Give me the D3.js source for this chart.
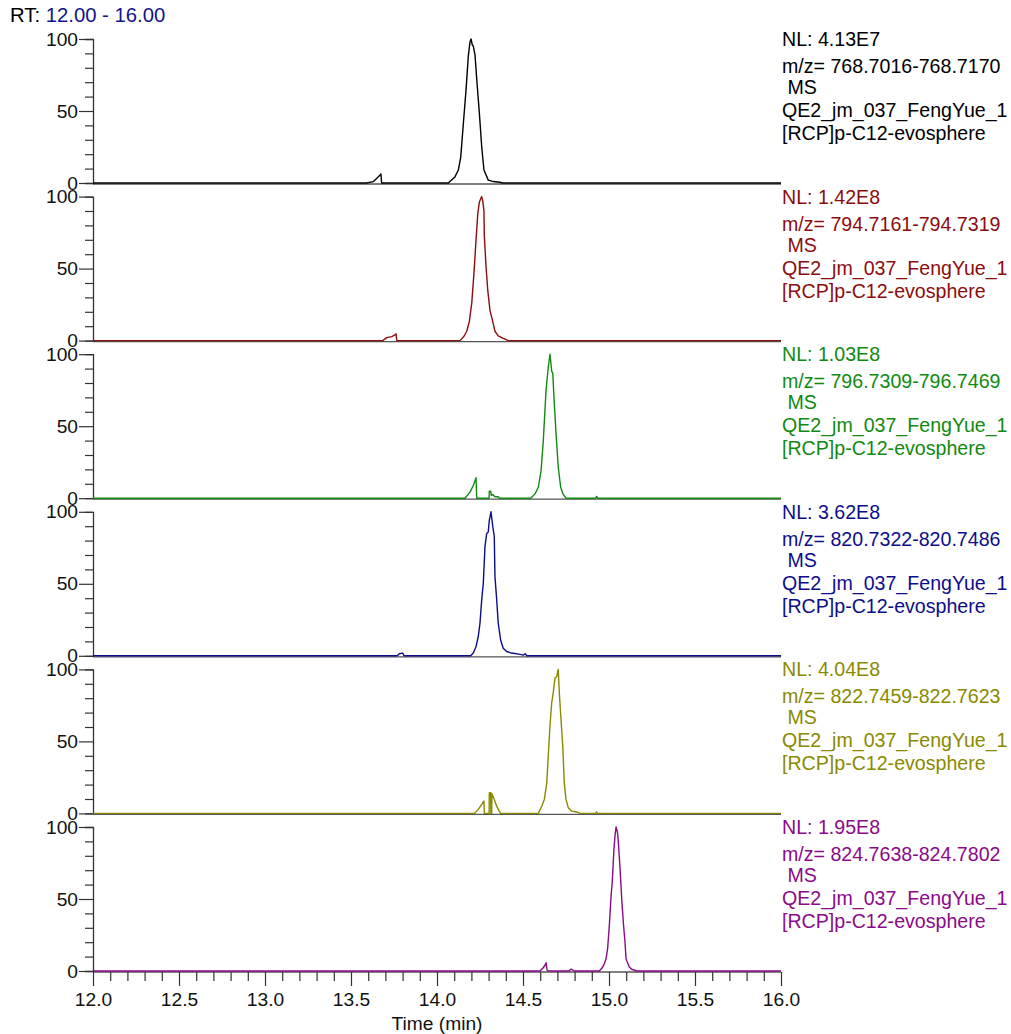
<!DOCTYPE html>
<html>
<head>
<meta charset="utf-8">
<script src="https://cdn.jsdelivr.net/npm/d3@7"></script>
<style>
  body { margin: 0; background: #fff; }
  svg text { font-family: "Liberation Sans", Arial, sans-serif; }
</style>
</head>
<body>
<svg id="chart" width="1011" height="1034"></svg>
<script>
// Time range shown (min)
const timeRange = [12, 16];
const xMajorTicks = [12.0, 12.5, 13.0, 13.5, 14.0, 14.5, 15.0, 15.5, 16.0];
const yMajorTicks = [0, 50, 100];

// Extracted ion chromatograms: [retention time (min), relative abundance (%)]
const trace768 = [
  [12.0, 0], [13.591, 0], [13.630, 1], [13.649, 3.2], [13.669, 5.5], [13.674, 6.2], [13.678, 0],
  [14.066, 0], [14.105, 4.4], [14.124, 9], [14.138, 18], [14.153, 41], [14.169, 65], [14.182, 88],
  [14.192, 98], [14.198, 100], [14.205, 96], [14.211, 95], [14.221, 89], [14.231, 72], [14.246, 49],
  [14.260, 25], [14.273, 9], [14.298, 2], [14.327, 1], [14.366, 0.5], [14.38, 0], [16.0, 0]
];
const trace794 = [
  [12.0, 0], [13.684, 0], [13.708, 2.1], [13.737, 2.8], [13.756, 4], [13.762, 4.7], [13.766, 0],
  [14.134, 0], [14.157, 3], [14.173, 6.5], [14.188, 13.3], [14.202, 26], [14.215, 47], [14.227, 70],
  [14.237, 88], [14.246, 96], [14.254, 98.5], [14.260, 100], [14.266, 97], [14.273, 90], [14.275, 73],
  [14.285, 51.6], [14.295, 35], [14.308, 21], [14.324, 13.3], [14.337, 6.5], [14.356, 3.3],
  [14.385, 1.6], [14.415, 0], [16.0, 0]
];
const trace796 = [
  [12.0, 0], [14.163, 0], [14.192, 4.2], [14.211, 8.8], [14.227, 14.2], [14.231, 0],
  [14.303, 0], [14.304, 4.9], [14.312, 4.9], [14.316, 1.9], [14.324, 2.6], [14.337, 1], [14.356, 1],
  [14.362, 0], [14.545, 0], [14.570, 3], [14.589, 7.6], [14.605, 19], [14.618, 40], [14.634, 75],
  [14.641, 84], [14.649, 93], [14.657, 100], [14.667, 88], [14.673, 87], [14.680, 70], [14.692, 45],
  [14.705, 21.5], [14.719, 7.6], [14.734, 2.6], [14.750, 0], [14.922, 0], [14.928, 1.2], [14.934, 0],
  [16.0, 0]
];
const trace820 = [
  [12.0, 0], [13.769, 0], [13.781, 1.4], [13.801, 1.9], [13.808, 0],
  [14.196, 0], [14.211, 1.9], [14.227, 6.5], [14.240, 13.4], [14.250, 22.7], [14.260, 39], [14.269, 50],
  [14.279, 76], [14.289, 85], [14.298, 86], [14.304, 94], [14.314, 100], [14.324, 90], [14.333, 83],
  [14.337, 55], [14.347, 39], [14.356, 22.7], [14.370, 11], [14.385, 5.3], [14.405, 3], [14.434, 1.9],
  [14.483, 1], [14.502, 0.5], [14.512, 1.4], [14.522, 0], [16.0, 0]
];
const trace822 = [
  [12.0, 0], [14.217, 0], [14.240, 2.8], [14.260, 6.3], [14.273, 8.6], [14.275, 0],
  [14.303, 0], [14.304, 14.4], [14.312, 14.4], [14.313, 0], [14.318, 0], [14.319, 13.9],
  [14.333, 9.7], [14.347, 5], [14.362, 1.6], [14.370, 0],
  [14.589, 0], [14.609, 5], [14.624, 9.7], [14.638, 21], [14.647, 40], [14.657, 61], [14.667, 77],
  [14.676, 84], [14.686, 94], [14.696, 95], [14.702, 98.8], [14.705, 100], [14.711, 84], [14.721, 65],
  [14.731, 47], [14.740, 21], [14.750, 9.7], [14.763, 4], [14.783, 1.6], [14.812, 1], [14.831, 0],
  [14.922, 0], [14.928, 1], [14.934, 0], [16.0, 0]
];
const trace824 = [
  [12.0, 0], [14.599, 0], [14.615, 1.9], [14.628, 4], [14.634, 5.8], [14.640, 0.5], [14.647, 0],
  [14.769, 0], [14.775, 1], [14.783, 1.2], [14.797, 0],
  [14.944, 0], [14.958, 1.9], [14.971, 4.4], [14.983, 8.6], [14.992, 15.6], [15.002, 31.7],
  [15.012, 52], [15.019, 62], [15.029, 85], [15.035, 94], [15.041, 100], [15.049, 96.5], [15.054, 90],
  [15.064, 71.6], [15.074, 50], [15.083, 34], [15.093, 20], [15.099, 8.6], [15.106, 6.2],
  [15.118, 2.8], [15.132, 1.2], [15.151, 0.5], [15.161, 0], [16.0, 0]
];

// Per-trace header lines
const normLevels = ["4.13E7", "1.42E8", "1.03E8", "3.62E8", "4.04E8", "1.95E8"];
const massRanges = ["768.7016-768.7170", "794.7161-794.7319", "796.7309-796.7469",
                    "820.7322-820.7486", "822.7459-822.7623", "824.7638-824.7802"];
const traceColors = ["#000000", "#8b0d0d", "#118a11", "#0d0d8b", "#8a8a00", "#8a0a8a"];
const traces = [trace768, trace794, trace796, trace820, trace822, trace824];
const sampleName = "QE2_jm_037_FengYue_1";
const sampleMethod = "[RCP]p-C12-evosphere";

const svg = d3.select("#chart");
const left = 93, right = 781;
const panelTop0 = 39, panelStep = 157.6, panelHeight = 144;
const fontSize = 19.6;
const tickFontSize = 19.2;

const x = d3.scaleLinear().domain(timeRange).range([left, right]);

// Header: retention-time window
const rt = svg.append("text").attr("x", 10).attr("y", 22).attr("font-size", 20.3);
rt.append("tspan").attr("fill", "#000").text("RT: ");
rt.append("tspan").attr("fill", "#14148c").text("12.00 - 16.00");

traces.forEach((data, i) => {
  const top = panelTop0 + i * panelStep;
  const y = d3.scaleLinear().domain([0, 100]).range([top + panelHeight, top]);
  const g = svg.append("g");

  // Time axis line beneath the trace
  g.append("line")
    .attr("x1", left).attr("x2", right)
    .attr("y1", y(0) + 1).attr("y2", y(0) + 1)
    .attr("stroke", "#555").attr("stroke-width", 1.3);

  // Relative abundance axis
  const yAxis = d3.axisLeft(y)
    .tickValues(d3.range(0, 101, 10))
    .tickSize(8)
    .tickFormat(d => yMajorTicks.includes(d) ? d : "");
  const ya = g.append("g").attr("transform", `translate(${left},0)`).call(yAxis);
  ya.select(".domain").attr("stroke", "#333").attr("stroke-width", 1.3);
  ya.selectAll(".tick line").attr("stroke", "#333").attr("stroke-width", 1.2)
    .attr("x2", d => yMajorTicks.includes(d) ? -14 : -8);
  ya.selectAll(".tick text")
    .attr("x", -15)
    .attr("font-size", tickFontSize)
    .attr("font-family", "'Liberation Sans', Arial, sans-serif")
    .attr("fill", "#111");

  // Chromatogram trace
  const line = d3.line().x(d => x(d[0])).y(d => y(d[1]));
  g.append("path")
    .datum(data)
    .attr("d", line)
    .attr("fill", "none")
    .attr("stroke", traceColors[i])
    .attr("stroke-width", 1.4)
    .attr("stroke-linejoin", "round");

  // Trace description at the right
  const lines = ["NL: " + normLevels[i], "m/z= " + massRanges[i], "\u00a0MS", sampleName, sampleMethod];
  const offsets = [7, 34, 55, 78, 101];
  lines.forEach((t, k) => {
    g.append("text")
      .attr("x", right + 1)
      .attr("y", top + offsets[k])
      .attr("font-size", fontSize)
      .attr("fill", traceColors[i])
      .text(t);
  });
});

// Bottom time axis
const bottomY = panelTop0 + 5 * panelStep + panelHeight;
const xAxis = d3.axisBottom(x)
  .tickValues(d3.range(0, 41).map(k => +(12 + k * 0.1).toFixed(1)))
  .tickSize(9)
  .tickFormat(d => xMajorTicks.some(m => Math.abs(m - d) < 1e-9) ? d3.format(".1f")(d) : "");
const xa = svg.append("g").attr("transform", `translate(0,${bottomY + 1})`).call(xAxis);
xa.select(".domain").remove();
xa.selectAll(".tick line").attr("stroke", "#333").attr("stroke-width", 1.2)
  .attr("y2", d => xMajorTicks.some(m => Math.abs(m - d) < 1e-9) ? 14 : 9);
xa.selectAll(".tick text")
  .attr("y", 20)
  .attr("font-size", tickFontSize)
  .attr("font-family", "'Liberation Sans', Arial, sans-serif")
  .attr("fill", "#111");

svg.append("text")
  .attr("x", (left + right) / 2)
  .attr("y", 1030)
  .attr("text-anchor", "middle")
  .attr("font-size", tickFontSize)
  .attr("fill", "#111")
  .text("Time (min)");
</script>
</body>
</html>
